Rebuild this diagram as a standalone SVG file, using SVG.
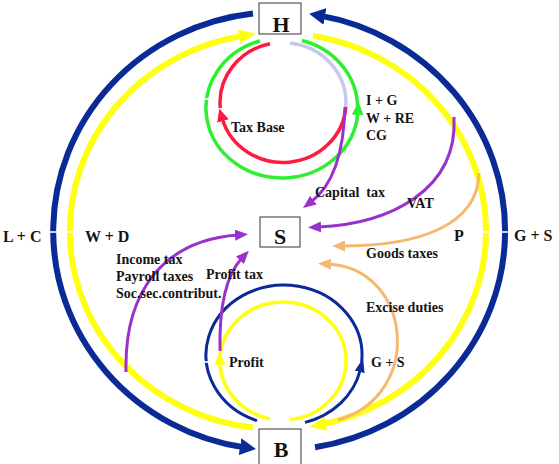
<svg xmlns="http://www.w3.org/2000/svg" width="559" height="464" viewBox="0 0 559 464">
<style>
  .lbl { font-family: "Liberation Serif", "Times New Roman", serif; font-weight: bold; fill: #141414; font-size: 14px; }
  .big { font-size: 16px; }
  .node rect { fill: #ffffff; stroke: #333333; stroke-width: 1; }
  .node text { font-family: "Liberation Serif", "Times New Roman", serif; font-weight: bold; font-size: 22px; fill: #111111; text-anchor: middle; }
  .bb { fill: none; stroke: #0a2a96; stroke-width: 6; }
  .by { fill: none; stroke: #ffff10; stroke-width: 6; }
  .sb { fill: none; stroke: #0a2a96; stroke-width: 3; }
  .sy { fill: none; stroke: #ffff10; stroke-width: 3.5; }
  .gr { fill: none; stroke: #30ee30; stroke-width: 3.5; }
  .rd { fill: none; stroke: #ff1a40; stroke-width: 3.5; }
  .lv { fill: none; stroke: #c8c8ee; stroke-width: 3.5; }
  .pu { fill: none; stroke: #9932cc; stroke-width: 3; }
  .or { fill: none; stroke: #f6b871; stroke-width: 3; }
  .gap { stroke: #ffffff; stroke-width: 1.6; }
</style>
<defs>
  <marker id="aBB" markerUnits="userSpaceOnUse" markerWidth="16" markerHeight="17" refX="5" refY="8.5" orient="auto"><path d="M0,0 L16,8.5 L0,17 z" fill="#0a2a96"/></marker>
  <marker id="aBY" markerUnits="userSpaceOnUse" markerWidth="17" markerHeight="14" refX="6" refY="7" orient="auto"><path d="M0,0 L17,7 L0,14 z" fill="#ffff10"/></marker>
  <marker id="aSB" markerUnits="userSpaceOnUse" markerWidth="14" markerHeight="10" refX="2" refY="5" orient="auto"><path d="M0,0 L14,5 L0,10 z" fill="#0a2a96"/></marker>
  <marker id="aSY" markerUnits="userSpaceOnUse" markerWidth="14" markerHeight="11" refX="2" refY="5.5" orient="auto"><path d="M0,0 L14,5.5 L0,11 z" fill="#ffff10"/></marker>
  <marker id="aGR" markerUnits="userSpaceOnUse" markerWidth="13" markerHeight="12" refX="2" refY="6" orient="auto"><path d="M0,0 L13,6 L0,12 z" fill="#30ee30"/></marker>
  <marker id="aRD" markerUnits="userSpaceOnUse" markerWidth="13" markerHeight="12" refX="2" refY="6" orient="auto"><path d="M0,0 L13,6 L0,12 z" fill="#ff1a40"/></marker>
  <marker id="aPU" markerUnits="userSpaceOnUse" markerWidth="13" markerHeight="11" refX="3" refY="5.5" orient="auto"><path d="M0,0 L13,5.5 L0,11 z" fill="#9932cc"/></marker>
  <marker id="aOR" markerUnits="userSpaceOnUse" markerWidth="13" markerHeight="11" refX="3" refY="5.5" orient="auto"><path d="M0,0 L13,5.5 L0,11 z" fill="#f6b871"/></marker>
</defs>
<rect width="559" height="464" fill="#ffffff"/>
<g id="connectors">
  <!-- big outer blue -->
  <path class="bb" d="M253,13.5 A226 219 0 0 0 245,447.5" marker-end="url(#aBB)"/>
  <path class="bb" d="M315,447.2 A226 219 0 0 0 320,15.6" marker-end="url(#aBB)"/>
  <!-- big yellow -->
  <path class="by" d="M253,427.6 A208 198 0 0 1 245,35.5" marker-end="url(#aBY)"/>
  <path class="by" d="M313,35.8 A208 198 0 0 1 320,424.9" marker-end="url(#aBY)"/>
  <!-- green around H -->
  <path class="gr" d="M260,41 A76 70 0 1 0 357.8,113" marker-end="url(#aGR)"/>
  <path class="gr" d="M357.6,108 A76 70 0 0 0 302,40.5"/>
  <!-- lavender and red -->
  <path class="lv" d="M290,43 A63 60 0 0 1 345.8,107"/>
  <path class="rd" d="M345.8,107 A63 60 0 0 1 222.4,119" marker-end="url(#aRD)"/>
  <path class="rd" d="M220.3,108 A63 60 0 0 1 270,43.8"/>
  <!-- small blue around B -->
  <path class="sb" d="M305,422.4 A78 70 0 0 0 360.2,370" marker-end="url(#aSB)"/>
  <path class="sb" d="M361.6,362 A78 70 0 1 0 257,420.7"/>
  <!-- small yellow around B -->
  <path class="sy" d="M270,418.7 A63 59 0 0 1 220,363" marker-end="url(#aSY)"/>
  <path class="sy" d="M220.3,355 A63 59 0 1 1 290,419.6"/>
  <!-- tax flows -->
  <path class="pu" d="M345,107 Q343,178 311,202" marker-end="url(#aPU)"/>
  <path class="pu" d="M454,117 C458,190 390,224 318,227" marker-end="url(#aPU)"/>
  <path class="or" d="M479,173 C478,225 420,246 342,246" marker-end="url(#aOR)"/>
  <path class="or" d="M338,420 C425,395 412,268 328,264" marker-end="url(#aOR)"/>
  <path class="pu" d="M126,372 C124,290 165,240 238,235" marker-end="url(#aPU)"/>
  <path class="pu" d="M220,351 C219,305 226,275 242,258" marker-end="url(#aPU)"/>
  <!-- seams -->
  <line class="gap" x1="48" y1="232" x2="58" y2="232"/>
  <line class="gap" x1="65" y1="232" x2="75" y2="232"/>
  <line class="gap" x1="480" y1="232" x2="490" y2="232"/>
  <line class="gap" x1="500" y1="232" x2="510" y2="232"/>
  <line class="gap" x1="202" y1="99" x2="210" y2="99"/>
  <line class="gap" x1="202" y1="362" x2="210" y2="362"/>
</g>
<g id="node-H" class="node">
  <rect x="259" y="3" width="42" height="31"/>
  <text x="281" y="32">H</text>
</g>
<g id="node-S" class="node">
  <rect x="260" y="217" width="40" height="30"/>
  <text x="280" y="244">S</text>
</g>
<g id="node-B" class="node">
  <rect x="259" y="429" width="42" height="40"/>
  <text x="281" y="457">B</text>
</g>
<g id="labels">
  <text class="lbl" x="231" y="132">Tax Base</text>
  <text class="lbl" x="366" y="105">I + G</text>
  <text class="lbl" x="366" y="123">W + RE</text>
  <text class="lbl" x="366" y="140">CG</text>
  <text class="lbl" x="315" y="197" xml:space="preserve">Capital  tax</text>
  <text class="lbl" x="407" y="208">VAT</text>
  <text class="lbl" x="366" y="258">Goods taxes</text>
  <text class="lbl big" x="454" y="241">P</text>
  <text class="lbl big" x="514" y="241">G + S</text>
  <text class="lbl big" x="3" y="242">L + C</text>
  <text class="lbl big" x="85" y="242">W + D</text>
  <text class="lbl" x="116" y="264">Income tax</text>
  <text class="lbl" x="116" y="281">Payroll taxes</text>
  <text class="lbl" x="116" y="298">Soc.sec.contribut.</text>
  <text class="lbl" x="206" y="279">Profit tax</text>
  <text class="lbl" x="229" y="367">Profit</text>
  <text class="lbl" x="371" y="367">G + S</text>
  <text class="lbl" x="366" y="312">Excise duties</text>
</g>
</svg>
